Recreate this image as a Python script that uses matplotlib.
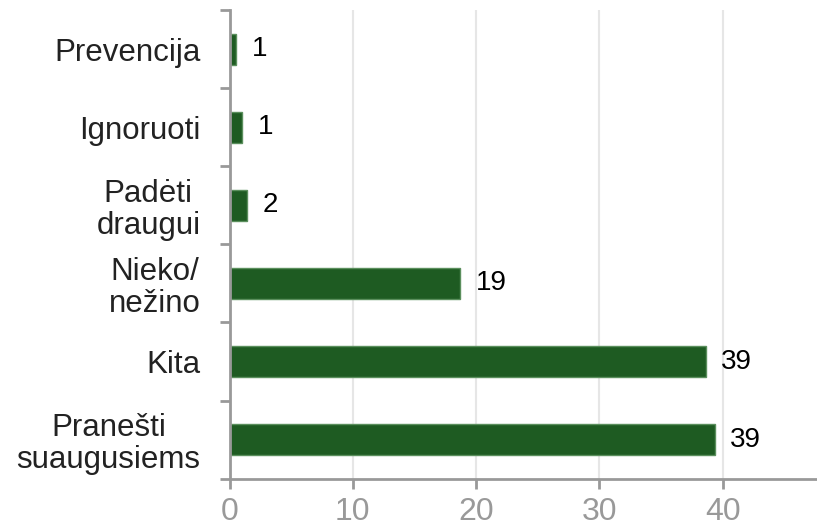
import matplotlib
matplotlib.use('Agg')
import matplotlib.pyplot as plt
import numpy as np

plt.rcParams['font.family'] = ['Liberation Sans', 'DejaVu Sans']

# Data (top to bottom)
categories = ['Prevencija', 'Ignoruoti', 'Padėti\ndraugui', 'Nieko/\nnežino', 'Kita', 'Pranešti\nsuaugusiems']
values = [0.53, 1.04, 1.45, 18.7, 38.65, 39.35]
value_labels = ['1', '1', '2', '19', '39', '39']
x_ticks = [0, 10, 20, 30, 40]

bar_color = '#1e5b22'
axis_color = '#999999'

fig = plt.figure(figsize=(8.17, 5.31), dpi=100)
ax = fig.add_axes([0.281, 0.0985, 0.719, 0.8825])

y = np.arange(len(categories))
ax.barh(y, values, height=0.4, color=bar_color, edgecolor='#5b8f5d', linewidth=1, zorder=3)

for yi, v, lab in zip(y, values, value_labels):
    ax.annotate(lab, xy=(v, yi), xytext=(11, 0), textcoords='offset points',
                ha='left', va='center', fontsize=20, color='black')

ax.set_xlim(0, 47.65)
ax.set_ylim(len(categories) - 0.5, -0.5)

ax.set_xticks(x_ticks)
ax.set_xticklabels([str(t) for t in x_ticks])
ax.tick_params(axis='x', colors=axis_color, labelsize=23, length=7, width=2, pad=6)
ax.grid(axis='x', color='#e6e6e6', linewidth=1.5, zorder=0)

ax.set_yticks(y)
ax.set_yticklabels(categories, multialignment='center', linespacing=1.1)
ax.set_yticks(np.arange(-0.5, len(categories)), minor=True)
ax.tick_params(axis='y', which='major', length=0, labelsize=22.5, labelcolor='#222222', pad=21)
ax.tick_params(axis='y', which='minor', length=7, width=2, color=axis_color)

for side in ['top', 'right']:
    ax.spines[side].set_visible(False)
for side in ['left', 'bottom']:
    ax.spines[side].set_color(axis_color)
    ax.spines[side].set_linewidth(2)
    ax.spines[side].set_zorder(4)

fig.savefig('out.png', dpi=100)
